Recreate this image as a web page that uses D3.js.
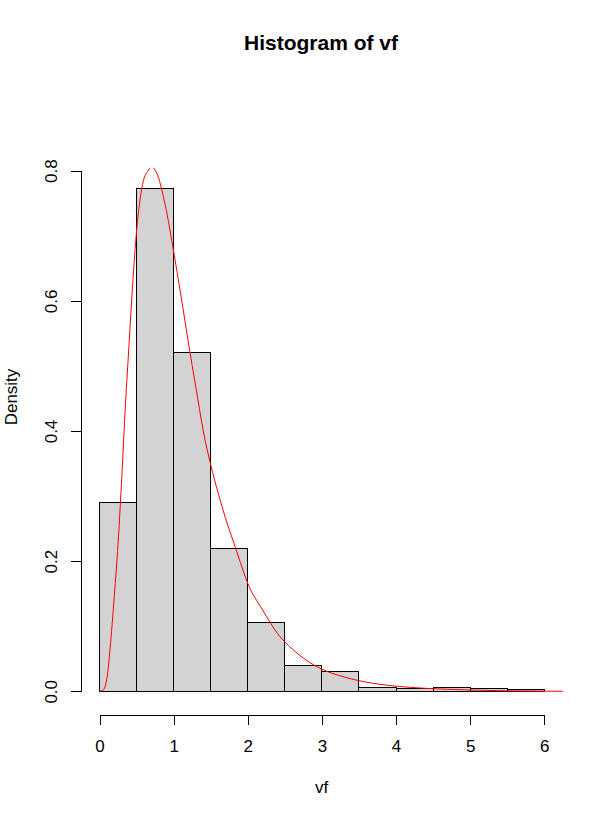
<!DOCTYPE html>
<html>
<head>
<meta charset="utf-8">
<script src="https://cdn.jsdelivr.net/npm/d3@7"></script>
<style>
  body { margin: 0; background: #fff; }
  svg { display: block; font-family: "Liberation Sans", Arial, sans-serif; }
</style>
</head>
<body>
<script>
// histogram bins (breaks every 0.5) and density per bin
const breaks = [0, 0.5, 1, 1.5, 2, 2.5, 3, 3.5, 4, 4.5, 5, 5.5, 6];
const density = [0.290, 0.772, 0.520, 0.220, 0.106, 0.040, 0.030, 0.006, 0.004, 0.006, 0.004, 0.002];

// red density curve
const curveX = [0, 0.05, 0.1, 0.15, 0.2, 0.25, 0.3, 0.35, 0.4, 0.45, 0.5, 0.55, 0.6, 0.65, 0.7, 0.75, 0.8, 0.85, 0.9, 0.95,
  1.0, 1.1, 1.2, 1.3, 1.4, 1.5, 1.6, 1.7, 1.8, 1.9, 2.0, 2.2, 2.4, 2.6, 2.8, 3.0, 3.3, 3.6, 3.9, 4.2, 4.6, 5.0, 5.5, 6.0, 6.25];
const curveY = [0, 0.002, 0.02, 0.075, 0.147, 0.226, 0.328, 0.44, 0.536, 0.63, 0.707, 0.758, 0.788, 0.799, 0.806, 0.801, 0.788, 0.766, 0.740, 0.709,
  0.676, 0.607, 0.535, 0.467, 0.40, 0.348, 0.305, 0.266, 0.232, 0.198, 0.166, 0.125, 0.089, 0.065, 0.047, 0.034, 0.022, 0.014, 0.009, 0.006, 0.0035, 0.002, 0.0007, 0.0002, 0.0001];

const xTicks = [0, 1, 2, 3, 4, 5, 6];
const yTicks = [0, 0.2, 0.4, 0.6, 0.8];

const W = 603, H = 817;

const x = d3.scaleLinear().domain([0, 6]).range([99.5, 544.3]);
const y = d3.scaleLinear().domain([0, 0.8]).range([691.3, 170.7]);

const svg = d3.select('body').append('svg').attr('width', W).attr('height', H);

// plot region clip (R usr box)
svg.append('clipPath').attr('id', 'plotclip')
  .append('rect').attr('x', 81.7).attr('y', 168).attr('width', 563 - 81.7).attr('height', 712 - 168);

// bars
const bins = density.map((d, i) => ({ x0: breaks[i], x1: breaks[i + 1], d: d }));
svg.append('g').attr('shape-rendering', 'crispEdges').selectAll('rect')
  .data(bins)
  .enter().append('rect')
  .attr('x', d => x(d.x0))
  .attr('y', d => y(d.d))
  .attr('width', d => x(d.x1) - x(d.x0))
  .attr('height', d => y(0) - y(d.d))
  .attr('fill', '#d3d3d3')
  .attr('stroke', '#000')
  .attr('stroke-width', 1);

// density curve
const pts = curveX.map((v, i) => [v, curveY[i]]);
svg.append('path')
  .datum(pts)
  .attr('clip-path', 'url(#plotclip)')
  .attr('fill', 'none')
  .attr('stroke', '#ff0000')
  .attr('stroke-width', 1)
  .attr('d', d3.line().x(d => x(d[0])).y(d => y(d[1])).curve(d3.curveMonotoneX));

// x axis
const gx = svg.append('g')
  .attr('transform', 'translate(0,715)')
  .call(d3.axisBottom(x).tickValues(xTicks).tickFormat(d3.format('d')).tickSize(10).tickSizeOuter(0));
gx.selectAll('text').attr('y', 36.5).attr('dy', null)
  .style('font-size', '17px').style('font-family', '"Liberation Sans", Arial, sans-serif').attr('fill', '#000');

// y axis
const gy = svg.append('g')
  .attr('transform', 'translate(81.3,0)')
  .call(d3.axisLeft(y).tickValues(yTicks).tickFormat(d3.format('.1f')).tickSize(10).tickSizeOuter(0));
gy.selectAll('text')
  .attr('x', 0).attr('y', -24).attr('dy', null)
  .attr('transform', 'rotate(-90)')
  .attr('text-anchor', 'middle')
  .style('font-size', '17px').style('font-family', '"Liberation Sans", Arial, sans-serif').attr('fill', '#000');

svg.selectAll('.domain, .tick line').attr('stroke', '#000').attr('stroke-width', 1)
  .attr('shape-rendering', 'crispEdges');

// titles
svg.append('text')
  .attr('x', 321).attr('y', 49.5)
  .attr('text-anchor', 'middle')
  .style('font-size', '21px').style('font-weight', 'bold')
  .text('Histogram of vf');

svg.append('text')
  .attr('x', 321.7).attr('y', 793)
  .attr('text-anchor', 'middle')
  .style('font-size', '17px')
  .text('vf');

svg.append('text')
  .attr('transform', 'translate(16.7,397) rotate(-90)')
  .attr('text-anchor', 'middle')
  .style('font-size', '17px')
  .text('Density');
</script>
</body>
</html>
